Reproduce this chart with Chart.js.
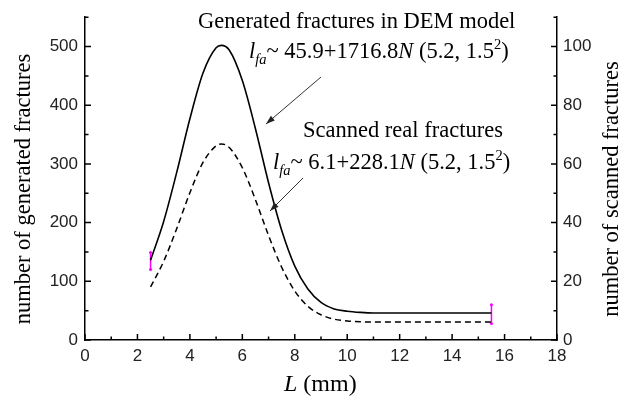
<!DOCTYPE html>
<html>
<head>
<meta charset="utf-8">
<script src="https://cdn.jsdelivr.net/npm/chart.js@4.4.1/dist/chart.umd.min.js"></script>
<style>
  html, body { margin: 0; padding: 0; background: #fff; }
  #wrap { width: 633px; height: 397px; }
</style>
</head>
<body>
<div id="wrap"><canvas id="fracChart" width="633" height="397"></canvas></div>
<script>
// fracture length L (mm)
var lengths = [2.5, 3, 3.5, 4, 4.5, 5, 5.2, 5.5, 6, 6.5, 7, 7.5, 8, 8.5, 9, 9.5, 10, 10.5, 11, 12, 13, 14, 15, 15.5];
// number of generated fractures (left axis)
var generated = [136, 202, 286, 377, 455, 498, 502, 494, 442, 360, 268, 187, 126, 87, 64, 53, 49, 47, 46, 46, 46, 46, 46, 46];
// number of scanned fractures (right axis)
var scanned = [18.1, 26.8, 38.0, 50.2, 60.5, 66.2, 66.8, 65.6, 58.7, 47.8, 35.6, 24.8, 16.7, 11.5, 8.6, 7.1, 6.5, 6.2, 6.1, 6.1, 6.1, 6.1, 6.1, 6.1];
// pink range markers
var markerLeftX = 2.5;
var markerLeftY = [120, 149];
var markerRightX = 15.5;
var markerRightY = [28, 60];

var xTicks = [0, 2, 4, 6, 8, 10, 12, 14, 16, 18];
var leftTicks = [0, 100, 200, 300, 400, 500];
var rightTicks = [0, 20, 40, 60, 80, 100];

var serif = "'Liberation Serif', 'Times New Roman', serif";
var sans = "'Liberation Sans', Arial, sans-serif";

function toPoints(xs, ys){
    return xs.map(function (x, i) { return {x: x, y: ys[i]}; });
}

// inward tick marks, major + minor
var tickPlugin = {
    id: 'inwardTicks',
    afterDraw: function (chart) {
        var ctx = chart.ctx;
        var area = chart.chartArea;
        var sx = chart.scales.x, sy = chart.scales.y, sy1 = chart.scales.y1;
        ctx.save();
        ctx.strokeStyle = '#000';
        ctx.lineWidth = 1.5;
        ctx.beginPath();
        for (var v = 0; v <= 18; v += 1) {
            var px = sx.getPixelForValue(v);
            var len = (v % 2 === 0) ? 6 : 3.5;
            ctx.moveTo(px, area.bottom);
            ctx.lineTo(px, area.bottom - len);
        }
        for (var a = 0; a <= 550; a += 50) {
            var py = sy.getPixelForValue(a);
            var l2 = (a % 100 === 0) ? 6 : 3.5;
            ctx.moveTo(area.left, py);
            ctx.lineTo(area.left + l2, py);
        }
        for (var b = 0; b <= 110; b += 10) {
            var py2 = sy1.getPixelForValue(b);
            var l3 = (b % 20 === 0) ? 6 : 3.5;
            ctx.moveTo(area.right, py2);
            ctx.lineTo(area.right - l3, py2);
        }
        ctx.stroke();
        ctx.restore();
    }
};

function drawRich(ctx, x, y, pieces){
    pieces.forEach(function (p) {
        ctx.font = (p.italic ? 'italic ' : '') + p.size + 'px ' + serif;
        ctx.fillText(p.t, x, y + (p.dy || 0));
        x += ctx.measureText(p.t).width;
    });
}

function formula(a, b){
    return [
        {t: 'l', italic: true, size: 22.5},
        {t: 'fa', italic: true, size: 14.5, dy: 6},
        {t: '~ ' + a + '+' + b, size: 22.5},
        {t: 'N', italic: true, size: 22.5},
        {t: ' (5.2, 1.5', size: 22.5},
        {t: '2', size: 14.5, dy: -9},
        {t: ')', size: 22.5}
    ];
}

function arrow(ctx, x1, y1, x2, y2){
    var ang = Math.atan2(y2 - y1, x2 - x1);
    ctx.beginPath();
    ctx.moveTo(x1, y1);
    ctx.lineTo(x2, y2);
    ctx.stroke();
    ctx.beginPath();
    ctx.moveTo(x2, y2);
    ctx.lineTo(x2 - 9 * Math.cos(ang) + 3 * Math.sin(ang), y2 - 9 * Math.sin(ang) - 3 * Math.cos(ang));
    ctx.lineTo(x2 - 9 * Math.cos(ang) - 3 * Math.sin(ang), y2 - 9 * Math.sin(ang) + 3 * Math.cos(ang));
    ctx.closePath();
    ctx.fill();
}

// titles and annotations
var textPlugin = {
    id: 'textLayer',
    afterDraw: function (chart) {
        var ctx = chart.ctx;
        var area = chart.chartArea;
        var titleY = 189;
        ctx.save();
        ctx.fillStyle = '#000';
        ctx.strokeStyle = '#333';
        ctx.lineWidth = 1;
        ctx.textBaseline = 'alphabetic';

        // axis titles
        ctx.textAlign = 'center';
        ctx.font = '22.5px ' + serif;
        ctx.save();
        ctx.translate(30, titleY);
        ctx.rotate(-Math.PI / 2);
        ctx.fillText('number of generated fractures', 0, 0);
        ctx.restore();
        ctx.save();
        ctx.translate(618, titleY);
        ctx.rotate(-Math.PI / 2);
        ctx.fillText('number of scanned fractures', 0, 0);
        ctx.restore();

        ctx.textAlign = 'left';
        var xt = [{t: 'L', italic: true, size: 24}, {t: ' (mm)', size: 24}];
        ctx.font = '24px ' + serif;
        var w = ctx.measureText('L (mm)').width;
        drawRich(ctx, (area.left + area.right) / 2 - w / 2, 391, xt);

        // annotations
        ctx.font = '22.5px ' + serif;
        ctx.fillText('Generated fractures in DEM model', 198, 28);
        drawRich(ctx, 249, 58, formula('45.9', '1716.8'));
        ctx.font = '22.5px ' + serif;
        ctx.fillText('Scanned real fractures', 303, 137);
        drawRich(ctx, 273, 169, formula('6.1', '228.1'));

        ctx.fillStyle = '#222';
        arrow(ctx, 321, 77, 266, 124);
        arrow(ctx, 303, 178, 270, 211);
        ctx.restore();
    }
};

var ctx = document.getElementById('fracChart');
var fracChart = new Chart(ctx, {
    type: 'line',
    data: {
        datasets: [
            {
                label: 'Generated fractures in DEM model',
                data: toPoints(lengths, generated),
                borderColor: '#000',
                borderWidth: 1.6,
                pointRadius: 0,
                cubicInterpolationMode: 'monotone',
                fill: false,
                yAxisID: 'y'
            },
            {
                label: 'Scanned real fractures',
                data: toPoints(lengths, scanned),
                borderColor: '#000',
                borderWidth: 1.5,
                borderDash: [6, 4],
                pointRadius: 0,
                cubicInterpolationMode: 'monotone',
                fill: false,
                yAxisID: 'y1'
            },
            {
                label: 'marker left',
                data: toPoints([markerLeftX, markerLeftX], markerLeftY),
                borderColor: '#ff00ff',
                backgroundColor: '#ff00ff',
                borderWidth: 1.5,
                pointRadius: 1.5,
                pointBorderWidth: 0,
                yAxisID: 'y'
            },
            {
                label: 'marker right',
                data: toPoints([markerRightX, markerRightX], markerRightY),
                borderColor: '#ff00ff',
                backgroundColor: '#ff00ff',
                borderWidth: 1.5,
                pointRadius: 1.5,
                pointBorderWidth: 0,
                yAxisID: 'y'
            }
        ]
    },
    options: {
        responsive: false,
        animation: false,
        layout: { padding: { top: 10, left: 0, right: 0, bottom: 0 } },
        plugins: {
            legend: { display: false },
            tooltip: { enabled: false }
        },
        scales: {
            x: {
                type: 'linear',
                min: 0,
                max: 18,
                afterBuildTicks: function (scale) {
                    scale.ticks = xTicks.map(function (v) { return {value: v}; });
                },
                afterFit: function (scale) { scale.height = 57; },
                ticks: {
                    color: '#222',
                    padding: 6,
                    font: { family: sans, size: 17 },
                    maxRotation: 0
                },
                grid: { display: false, drawTicks: false },
                border: { display: true, color: '#000', width: 1.5 }
            },
            y: {
                position: 'left',
                min: 0,
                max: 550,
                afterBuildTicks: function (scale) {
                    scale.ticks = leftTicks.map(function (v) { return {value: v}; });
                },
                afterFit: function (scale) { scale.width = 85; },
                ticks: {
                    color: '#222',
                    padding: 7,
                    font: { family: sans, size: 17 }
                },
                grid: { display: false, drawTicks: false },
                border: { display: true, color: '#000', width: 1.5 }
            },
            y1: {
                position: 'right',
                min: 0,
                max: 110,
                afterBuildTicks: function (scale) {
                    scale.ticks = rightTicks.map(function (v) { return {value: v}; });
                },
                afterFit: function (scale) { scale.width = 76; },
                ticks: {
                    color: '#222',
                    padding: 6,
                    font: { family: sans, size: 17 }
                },
                grid: { display: false, drawTicks: false },
                border: { display: true, color: '#000', width: 1.5 }
            }
        }
    },
    plugins: [tickPlugin, textPlugin]
});
</script>
</body>
</html>
